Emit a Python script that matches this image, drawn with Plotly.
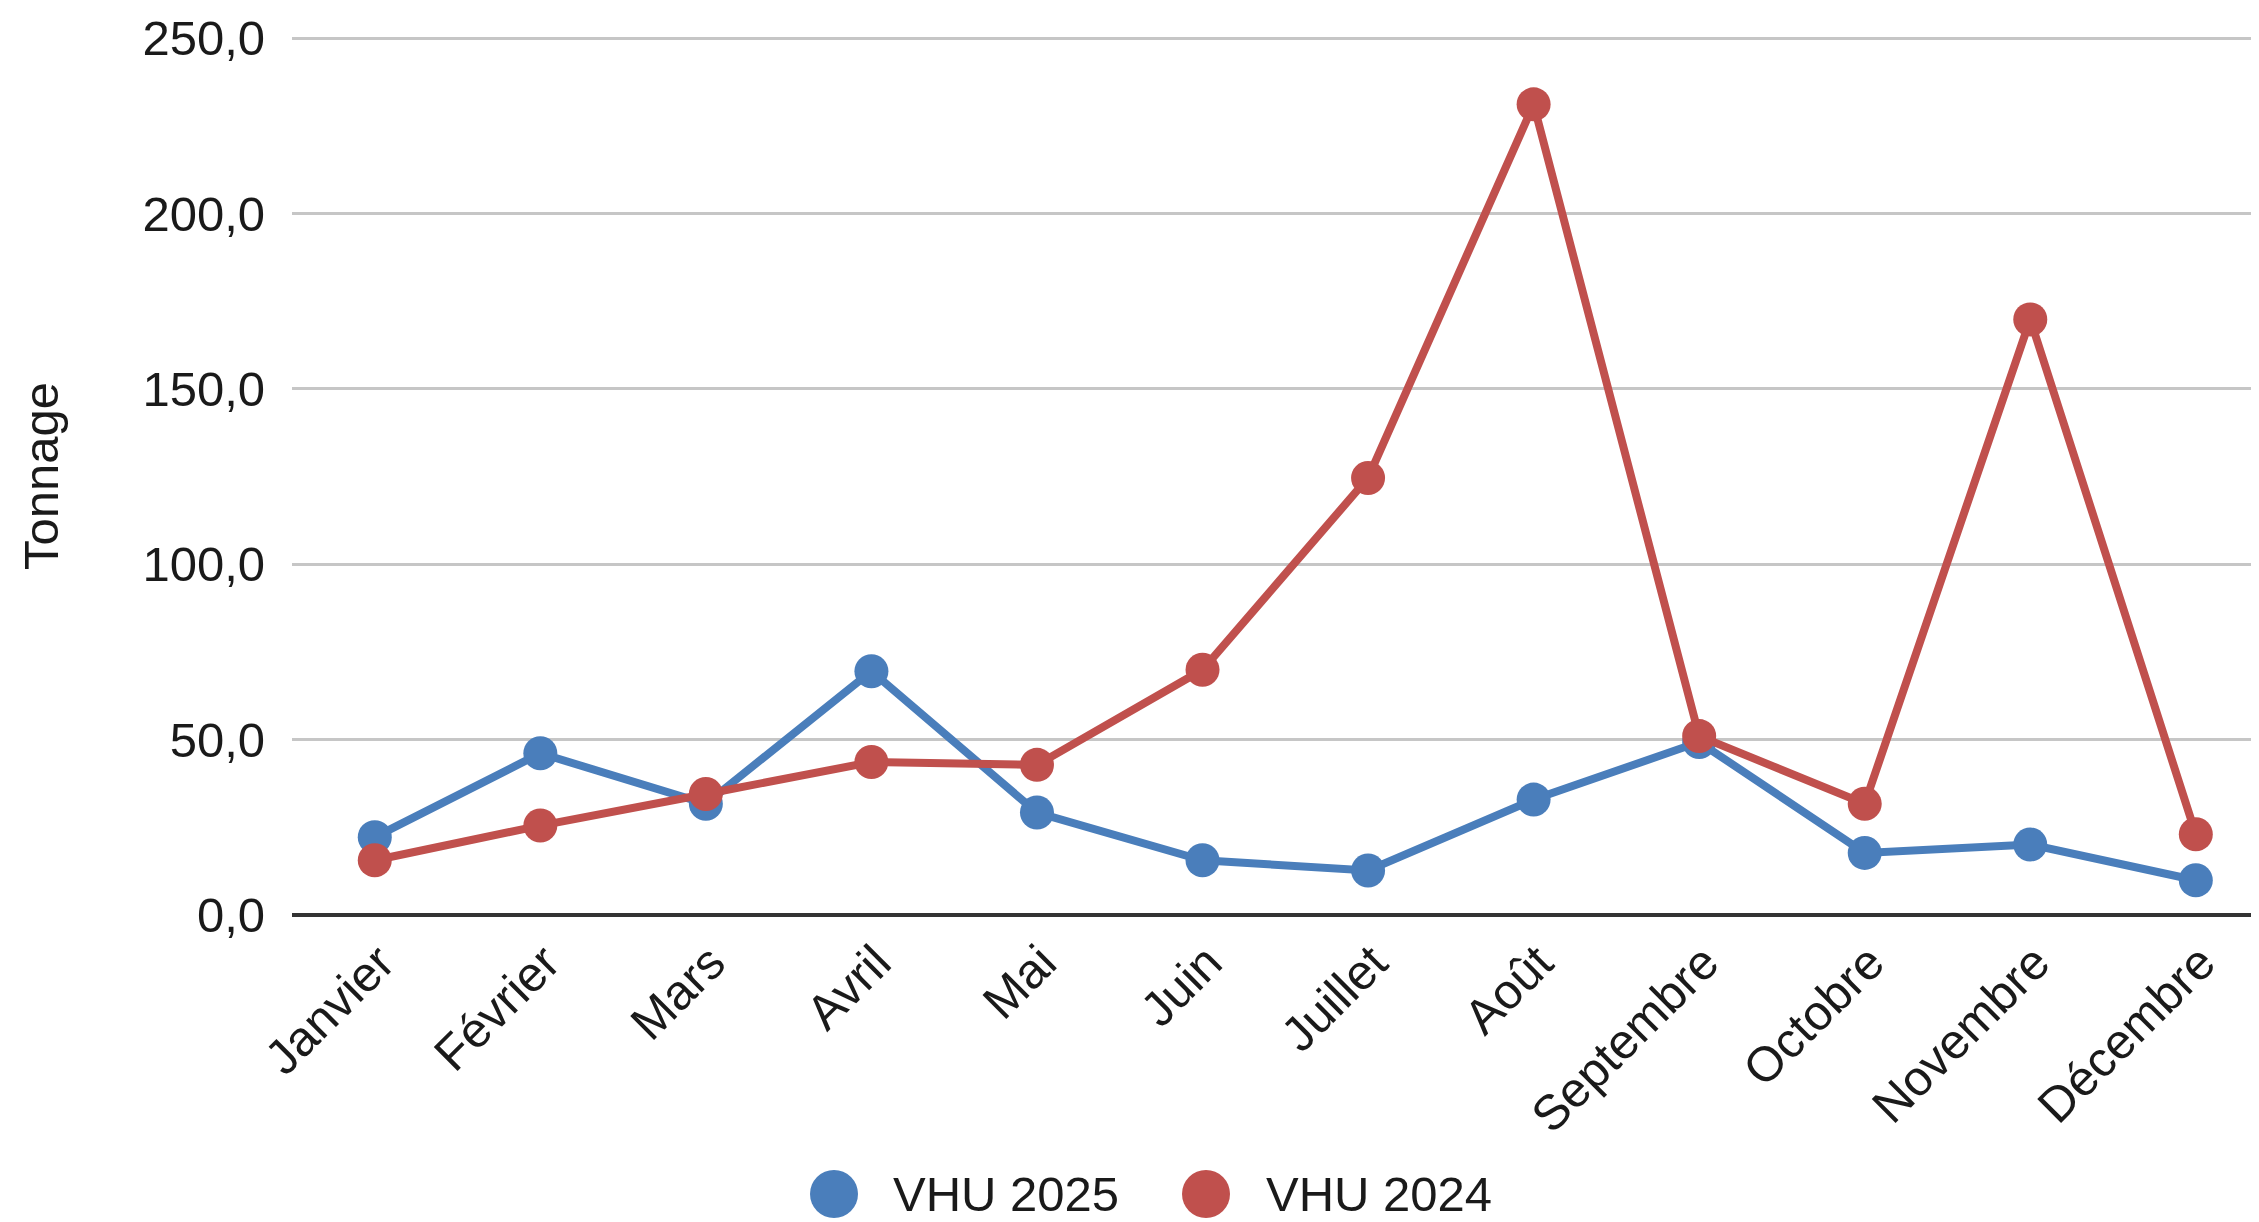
import plotly.graph_objects as go

# --- données ---
mois = ["Janvier", "Février", "Mars", "Avril", "Mai", "Juin", "Juillet",
        "Août", "Septembre", "Octobre", "Novembre", "Décembre"]
vhu_2025 = [22.2, 46.1, 31.7, 69.5, 29.2, 15.6, 12.7, 32.9, 49.3, 17.7, 20.1, 9.9]
vhu_2024 = [15.6, 25.5, 34.5, 43.6, 42.8, 69.9, 124.6, 231.1, 51.0, 31.7, 169.8, 23.0]
y_ticks = [0, 50, 100, 150, 200, 250]
y_ticktext = ["0,0", "50,0", "100,0", "150,0", "200,0", "250,0"]
series = ["VHU 2025", "VHU 2024"]

BLEU = "#4a7ebb"
ROUGE = "#c0504d"
FONT = "Liberation Sans, Arial, sans-serif"
W, H = 2259, 1222
L, T, B = 284, 29, 315   # la page ajoute 8 px de marge au body

fig = go.Figure()
for nom, vals, col in [(series[0], vhu_2025, BLEU), (series[1], vhu_2024, ROUGE)]:
    fig.add_trace(go.Scatter(
        x=mois, y=vals, mode="lines+markers", name=nom,
        line=dict(color=col, width=8), marker=dict(color=col, size=34),
        showlegend=False,
    ))

# --- légende dessinée à la main (gros cercles comme l'original) ---
def px_x(p):
    return (p - L) / (W - L)

def px_y(p):
    return (H - B - p) / (H - B - T)

leg_y = 1186
for nom, col, cx, tx in [(series[0], BLEU, 826, 883), (series[1], ROUGE, 1198, 1256)]:
    fig.add_shape(type="circle", xref="paper", yref="paper",
                  xsizemode="pixel", ysizemode="pixel",
                  xanchor=px_x(cx), yanchor=px_y(leg_y),
                  x0=-24, x1=24, y0=-24, y1=24,
                  fillcolor=col, line=dict(width=0))
    fig.add_annotation(text=nom, xref="paper", yref="paper",
                       x=px_x(tx), y=px_y(leg_y), xanchor="left", yanchor="middle",
                       showarrow=False, font=dict(size=49, color="#1a1a1a"))

fig.update_layout(
    width=W, height=H,
    paper_bgcolor="white", plot_bgcolor="white",
    font=dict(family=FONT, size=49, color="#1a1a1a"),
    margin=dict(l=L, r=0, t=T, b=B),
    showlegend=False,
)
fig.update_xaxes(
    range=[-0.5, 11.43], tickangle=-45, showgrid=False, showline=False,
    ticks="", tickfont=dict(size=49), ticklabelstandoff=8, ticklabelshift=5,
)
fig.update_yaxes(
    range=[0, 250.3], tickvals=y_ticks, ticktext=y_ticktext,
    showgrid=True, gridcolor="#c6c6c6", gridwidth=3,
    zeroline=True, zerolinecolor="#333333", zerolinewidth=4,
    showline=False, ticks="", ticklabelstandoff=26,
    title=dict(text="Tonnage", font=dict(size=49), standoff=68),
)

fig.write_html("out.html")
